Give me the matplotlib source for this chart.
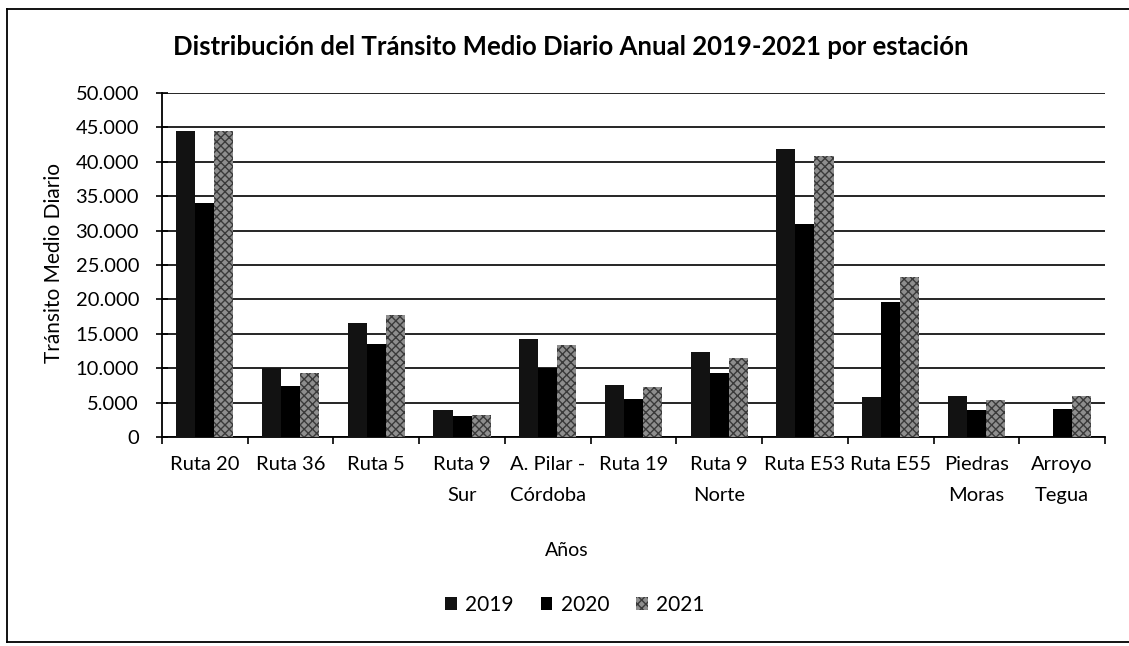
import matplotlib
matplotlib.use("Agg")
import matplotlib.pyplot as plt
import numpy as np
from matplotlib.patches import Patch
from matplotlib.lines import Line2D
from matplotlib.ticker import FuncFormatter, FixedLocator

categories = ["Ruta 20", "Ruta 36", "Ruta 5", "Ruta 9\nSur", "A. Pilar -\nCórdoba",
              "Ruta 19", "Ruta 9\nNorte", "Ruta E53", "Ruta E55", "Piedras\nMoras",
              "Arroyo\nTegua"]
years = ["2019", "2020", "2021"]
v2019 = [44500, 10000, 16600, 3900, 14300, 7500, 12400, 41800, 5800, 6000, 0]
v2020 = [34000, 7400, 13500, 3000, 10000, 5500, 9300, 31000, 19600, 3900, 4100]
v2021 = [44500, 9300, 17700, 3200, 13300, 7200, 11500, 40800, 23300, 5400, 5900]
yticks = [0, 5000, 10000, 15000, 20000, 25000, 30000, 35000, 40000, 45000, 50000]

plt.rcParams['font.family'] = ['Lato', 'DejaVu Sans']

W, H = 1129, 646
fig = plt.figure(figsize=(W / 100, H / 100), dpi=100)
fig.patch.set_facecolor('white')

# outer chart border (left, top, bottom visible)
def fline(xs, ys):
    fig.add_artist(Line2D([v / W for v in xs], [1 - v / H for v in ys],
                          transform=fig.transFigure, color='black', linewidth=1.3))
fline([7, 7], [9, 642])
fline([7, 1129], [9, 9])
fline([7, 1129], [642, 642])

ax = fig.add_axes([162 / W, 1 - 437 / H, (1105 - 162) / W, (437 - 93) / H])

x = np.arange(len(categories))
bw = 1 / 4.5
styles = [
    dict(facecolor='#121212', edgecolor='#121212', hatch=None),
    dict(facecolor='#000000', edgecolor='#000000', hatch=None),
    dict(facecolor='#8e8e8e', edgecolor='#3a3a3a', hatch='xxxx'),
]
series = [v2019, v2020, v2021]
for i, (vals, st) in enumerate(zip(series, styles)):
    ax.bar(x + (i - 1) * bw, vals, width=bw, facecolor=st['facecolor'],
           edgecolor=st['edgecolor'], hatch=st['hatch'], linewidth=0,
           zorder=3, label=years[i])

ax.set_xlim(-0.5, len(categories) - 0.5)
ax.set_ylim(0, 50000)
ax.set_yticks(yticks)
ax.yaxis.set_major_formatter(FuncFormatter(lambda v, p: f"{int(v):,}".replace(",", ".")))
ax.grid(axis='y', color='black', linewidth=1.2, zorder=0)
ax.set_axisbelow(True)

for s in ['top', 'right']:
    ax.spines[s].set_visible(False)
for s in ['left', 'bottom']:
    ax.spines[s].set_linewidth(1.3)
    ax.spines[s].set_color('black')

ax.tick_params(axis='y', direction='inout', length=9, width=1.2, labelsize=14.5, pad=12)
ax.set_xticks(x)
ax.set_xticklabels(categories, fontsize=14.5, linespacing=1.95, va='top')
ax.tick_params(axis='x', which='major', length=0, pad=14)
ax.xaxis.set_minor_locator(FixedLocator(np.arange(-0.5, len(categories), 1.0)))
ax.tick_params(axis='x', which='minor', direction='out', length=5, width=1.2)

ax.set_ylabel("Tránsito Medio Diario", fontsize=15)
ax.yaxis.set_label_coords((64 - 162) / 943, (437 - 263) / 344)

fig.text(571 / W, 1 - 47 / H,
         "Distribución del Tránsito Medio Diario Anual 2019-2021 por estación",
         ha='center', va='center', fontsize=18.5, fontweight='bold')
fig.text(567 / W, 1 - 550 / H, "Años", ha='center', va='center', fontsize=14)

handles = [Patch(facecolor=st['facecolor'], edgecolor=st['edgecolor'],
                 hatch=st['hatch'], linewidth=0) for st in styles]
fig.legend(handles, years, loc='center', bbox_to_anchor=(575 / W, 1 - 605 / H),
           ncol=3, frameon=False, fontsize=15, handlelength=0.55, handleheight=0.55,
           handletextpad=0.4, columnspacing=1.3)

fig.savefig("out.png", dpi=100)
